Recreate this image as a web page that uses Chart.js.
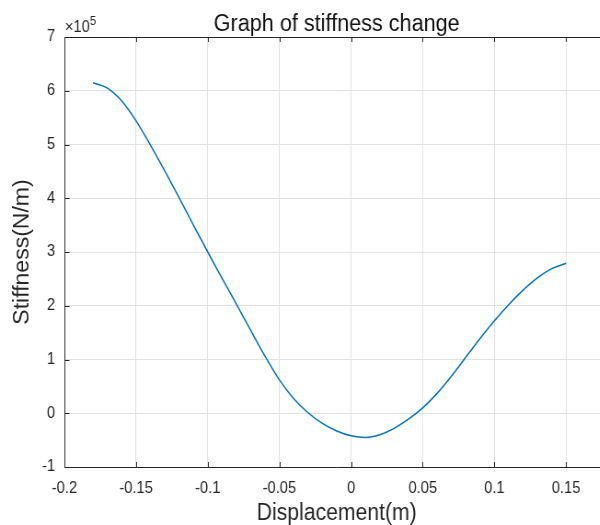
<!DOCTYPE html>
<html>
<head>
<meta charset="utf-8">
<title>Graph of stiffness change</title>
<script src="https://cdn.jsdelivr.net/npm/chart.js@4/dist/chart.umd.min.js"></script>
<style>
  html, body { margin: 0; padding: 0; background: #fff; overflow: hidden; }
  #wrap { width: 600px; height: 525px; overflow: hidden; position: relative; }
  #stiffnessChart { position: absolute; left: 0; top: 0; transform: scaleX(0.92); transform-origin: 0 0; }
</style>
</head>
<body>
<div id="wrap"><canvas id="stiffnessChart" width="760" height="525"></canvas></div>
<script>
// 変位 (m)
const displacement = [
    -0.18, -0.17, -0.16, -0.15, -0.14, -0.13, -0.12, -0.11, -0.10, -0.09,
    -0.08, -0.07, -0.06, -0.05, -0.04, -0.03, -0.02, -0.01, 0.00, 0.01,
    0.02, 0.03, 0.04, 0.05, 0.06, 0.07, 0.08, 0.09, 0.10, 0.11,
    0.12, 0.13, 0.14, 0.15
];
// 剛性 (N/m)
const stiffness = [
    615000, 605000, 581000, 544000, 499000, 451000, 401000, 350000, 300000, 251000,
    203000, 154000, 106000, 62000, 27000, 1000, -19000, -33000, -42000, -45000,
    -40000, -28000, -11000, 10000, 37000, 69000, 104000, 139000, 172000, 202000,
    229000, 252000, 269000, 279000
];
// 目盛り
const xTickValues = [-0.2, -0.15, -0.1, -0.05, 0, 0.05, 0.1, 0.15];
const yTickValues = [-100000, 0, 100000, 200000, 300000, 400000, 500000, 600000, 700000];

const FONT = '"Liberation Sans", Arial, Helvetica, sans-serif';
const AXIS_COLOR = '#262626';
const GRID_COLOR = '#e2e2e2';

// 上枠・内向き目盛り・タイトル・指数表記
const boxPlugin = {
    id: 'box',
    afterDraw(chart) {
        const {ctx, chartArea: a, scales: {x, y}} = chart;
        ctx.save();
        ctx.strokeStyle = AXIS_COLOR;
        ctx.lineWidth = 1;
        ctx.beginPath();
        ctx.moveTo(a.left, a.top + 0.5);
        ctx.lineTo(a.right, a.top + 0.5);
        x.ticks.forEach(t => {
            const px = Math.round(x.getPixelForValue(t.value)) + 0.5;
            ctx.moveTo(px, a.bottom);
            ctx.lineTo(px, a.bottom - 5);
            ctx.moveTo(px, a.top);
            ctx.lineTo(px, a.top + 5);
        });
        y.ticks.forEach(t => {
            const py = Math.round(y.getPixelForValue(t.value)) + 0.5;
            ctx.moveTo(a.left, py);
            ctx.lineTo(a.left + 5.5, py);
        });
        ctx.stroke();

        ctx.fillStyle = '#111';
        ctx.font = '23.5px ' + FONT;
        ctx.textAlign = 'center';
        ctx.textBaseline = 'alphabetic';
        ctx.fillText('Graph of stiffness change', (a.left + a.right) / 2, 31);

        ctx.fillStyle = AXIS_COLOR;
        ctx.textAlign = 'left';
        ctx.font = '16px ' + FONT;
        const base = '\u00d710';
        ctx.fillText(base, a.left + 0.5, 32);
        const w = ctx.measureText(base).width;
        ctx.font = '12px ' + FONT;
        ctx.fillText('5', a.left + 0.5 + w, 25);
        ctx.restore();
    }
};

const ctx = document.getElementById('stiffnessChart').getContext('2d');
const stiffnessChart = new Chart(ctx, {
    type: 'line',
    data: {
        datasets: [{
            data: displacement.map((d, i) => ({x: d, y: stiffness[i]})),
            borderColor: '#0072BD',
            borderWidth: 1.5,
            pointRadius: 0,
            cubicInterpolationMode: 'monotone',
            fill: false
        }]
    },
    options: {
        responsive: false,
        animation: false,
        devicePixelRatio: 1,
        layout: {
            padding: {left: 0, right: 98, top: 37, bottom: 0}
        },
        plugins: {
            legend: {display: false},
            tooltip: {enabled: false}
        },
        scales: {
            x: {
                type: 'linear',
                min: -0.2,
                max: 0.18,
                afterBuildTicks: s => { s.ticks = xTickValues.map(v => ({value: v})); },
                afterFit: s => { s.height = 58; },
                grid: {color: GRID_COLOR, drawTicks: false},
                border: {color: AXIS_COLOR, width: 1},
                ticks: {
                    font: {family: FONT, size: 16},
                    color: AXIS_COLOR,
                    padding: 12,
                    maxRotation: 0,
                    autoSkip: false,
                    callback: v => String(+v.toFixed(2))
                },
                title: {
                    display: true,
                    text: 'Displacement(m)',
                    color: AXIS_COLOR,
                    font: {family: FONT, size: 23, lineHeight: 1},
                    padding: 0
                }
            },
            y: {
                min: -100000,
                max: 700000,
                afterBuildTicks: s => { s.ticks = yTickValues.map(v => ({value: v})); },
                afterFit: s => { s.width = 70; },
                grid: {color: GRID_COLOR, drawTicks: false},
                border: {color: AXIS_COLOR, width: 1},
                ticks: {
                    font: {family: FONT, size: 16},
                    color: AXIS_COLOR,
                    padding: 10,
                    autoSkip: false,
                    callback: v => String(v / 100000)
                },
                title: {
                    display: true,
                    text: 'Stiffness(N/m)',
                    color: AXIS_COLOR,
                    font: {family: FONT, size: 23, lineHeight: 1},
                    padding: {top: 13, bottom: 0}
                }
            }
        }
    },
    plugins: [boxPlugin]
});
</script>
</body>
</html>
